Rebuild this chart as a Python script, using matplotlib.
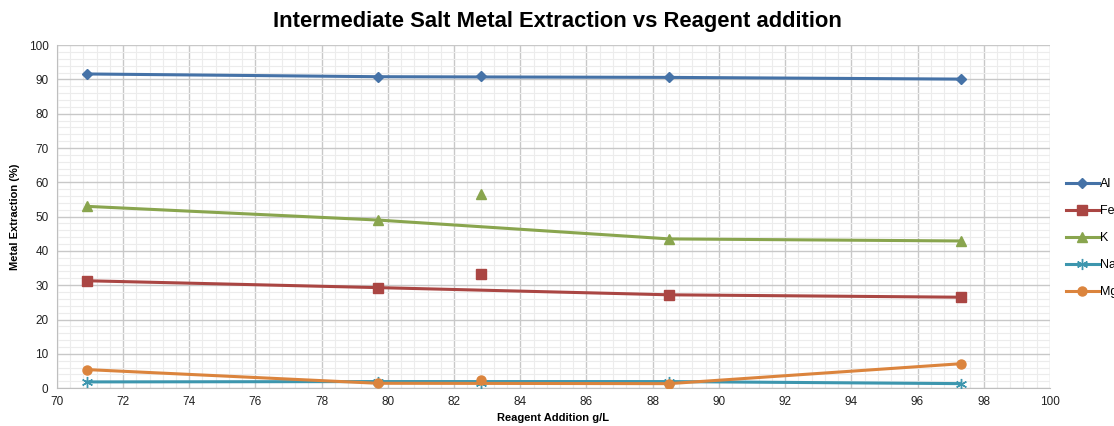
import matplotlib
matplotlib.use('Agg')
import matplotlib.pyplot as plt
from matplotlib.ticker import MultipleLocator

plt.rcParams['font.family'] = ['Liberation Sans', 'DejaVu Sans']

# Donnees (lignes)
reagent = [70.9, 79.7, 88.5, 97.3]
al = [91.6, 90.8, 90.6, 90.1]
fe = [31.3, 29.3, 27.2, 26.5]
k  = [53.0, 49.0, 43.5, 42.9]
na = [1.8, 1.9, 1.9, 1.3]
mg = [5.4, 1.4, 1.3, 7.1]

# Point isole a 82.8 g/L
reagent_extra = [82.8]
al_extra = [91.0]
fe_extra = [33.3]
k_extra  = [56.5]
na_extra = [1.5]
mg_extra = [2.4]

series = [
    ("Al", al, al_extra, '#4572A7', 'D', 5.5),
    ("Fe", fe, fe_extra, '#AA4643', 's', 6.5),
    ("K",  k,  k_extra,  '#89A54E', '^', 6.5),
    ("Na", na, na_extra, '#3D96AE', (6, 2, 0), 8),
    ("Mg", mg, mg_extra, '#DB843D', 'o', 6.5),
]

fig = plt.figure(figsize=(11.14, 4.26), dpi=100)
ax = fig.add_axes([0.051, 0.089, 0.8915, 0.805])

for name, vals, extra, col, mk, ms in series:
    ax.plot(reagent, vals, color=col, linewidth=2.2, marker=mk, markersize=ms,
            label=name, zorder=3)
    ax.plot(reagent_extra, extra, color=col, linestyle='none', marker=mk,
            markersize=ms, zorder=3)

ax.set_xlim(70, 100)
ax.set_ylim(0, 100)
ax.xaxis.set_major_locator(MultipleLocator(2))
ax.xaxis.set_minor_locator(MultipleLocator(0.4))
ax.yaxis.set_major_locator(MultipleLocator(10))
ax.yaxis.set_minor_locator(MultipleLocator(2))
ax.grid(which='major', color='#c8c8c8', linewidth=1.0)
ax.grid(which='minor', color='#ececec', linewidth=0.8)
ax.set_axisbelow(True)
for s in ['top', 'right']:
    ax.spines[s].set_visible(False)
for s in ['left', 'bottom']:
    ax.spines[s].set_color('#bfbfbf')
ax.tick_params(which='both', length=0, labelsize=8.5, colors='#222222', pad=6)

ax.set_xlabel('Reagent Addition g/L', fontsize=8, fontweight='bold', labelpad=3)
ax.set_ylabel('Metal Extraction (%)', fontsize=8, fontweight='bold', labelpad=6)
fig.suptitle('Intermediate Salt Metal Extraction vs Reagent addition',
             fontsize=15.8, fontweight='bold', x=0.5, y=0.975)

ax.legend(loc='center left', bbox_to_anchor=(1.005, 0.437), frameon=False,
          fontsize=9, handlelength=2.6, handletextpad=0.1, labelspacing=1.2,
          borderaxespad=0.5)

fig.savefig('out.png', dpi=100)
